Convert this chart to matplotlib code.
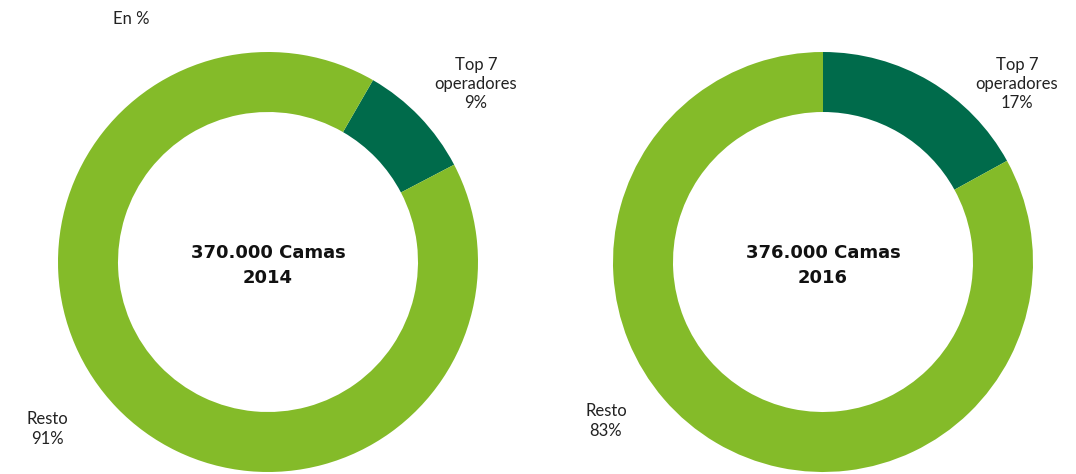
import matplotlib
matplotlib.use("Agg")
import matplotlib.pyplot as plt

plt.rcParams['font.family'] = ['Lato', 'DejaVu Sans']

# Data
years = ["2014", "2016"]
total_beds = ["370.000", "376.000"]
categories = ["Top 7\noperadores", "Resto"]
shares_2014 = [9, 91]
shares_2016 = [17, 83]
start_angles = [60, 90]

dark_green = "#006B4B"
light_green = "#84BB29"

W, H = 1076, 474
fig = plt.figure(figsize=(W / 100, H / 100), dpi=100)

R = 210
centers = [(268, 262), (823, 262)]
top_label_pos = [(476, 84), (1017, 84)]
rest_label_pos = [(47, 429), (606, 421)]

for i, shares in enumerate([shares_2014, shares_2016]):
    cx, cy = centers[i]
    ax = fig.add_axes([(cx - R) / W, (H - cy - R) / H, 2 * R / W, 2 * R / H])
    ax.pie(shares, colors=[dark_green, light_green], startangle=start_angles[i],
           counterclock=False, radius=1,
           wedgeprops=dict(width=60 / R, linewidth=0))
    ax.set_xlim(-1, 1)
    ax.set_ylim(-1, 1)
    ax.set_aspect('equal')
    ax.axis('off')
    ax.text(0, -0.015, f"{total_beds[i]} Camas\n{years[i]}", ha='center', va='center',
            fontsize=13, fontweight='bold', color='#111111', linespacing=1.5,
            family=['DejaVu Sans'])

    tx, ty = top_label_pos[i]
    fig.text(tx / W, 1 - ty / H, f"{categories[0]}\n{shares[0]}%", ha='center', va='center',
             fontsize=12, color='#222222', linespacing=1.25)
    rx, ry = rest_label_pos[i]
    fig.text(rx / W, 1 - ry / H, f"{categories[1]}\n{shares[1]}%", ha='center', va='center',
             fontsize=12, color='#222222', linespacing=1.25)

fig.text(113 / W, 1 - 19 / H, "En %", ha='left', va='center', fontsize=12, color='#222222')

fig.savefig("out.png", dpi=100, facecolor='white')
